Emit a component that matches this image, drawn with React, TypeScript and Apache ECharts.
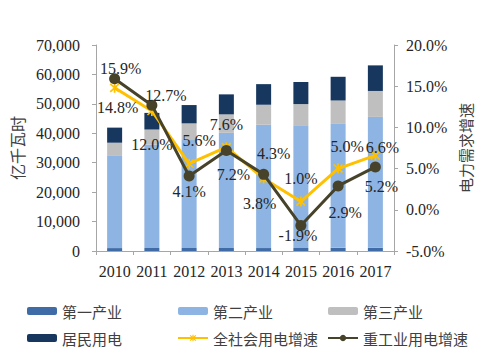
import React, { useEffect, useRef } from "react";
import * as echarts from "echarts";

const years = ["2010", "2011", "2012", "2013", "2014", "2015", "2016", "2017"];
const primary = [984, 1013, 1013, 1014, 1000, 1020, 1075, 1155];
const secondary = [31318, 35185, 36669, 39143, 41900, 41700, 42108, 44413];
const tertiary = [4497, 5082, 5690, 6273, 6800, 7200, 7961, 8814];
const residential = [5125, 5646, 6219, 6793, 7000, 7500, 8054, 8695];
const totalGrowth = [14.8, 12.0, 5.6, 7.6, 3.8, 1.0, 5.0, 6.6];
const heavyGrowth = [15.9, 12.7, 4.1, 7.2, 4.3, -1.9, 2.9, 5.2];

const totalLabelOffsets = [[3, 20], [0, 34], [10, -23], [0, -23], [-4, 25], [0, -23], [9, -22], [7, -8]];
const heavyLabelOffsets = [[6, -10], [14, -10], [0, 15], [7, 24], [10, -21], [-3, 10], [7, 27], [6, 20]];

const serif = "'Liberation Serif', 'Times New Roman', serif";
const cjk = "'Noto Sans CJK SC', sans-serif";
const textColor = "#262626";
const axisColor = "#A6A6A6";

const asterisk =
  "path://M-0.8,-5L0.8,-5L0.8,5L-0.8,5Z M-4.6,-3.5L-3.5,-4.6L4.6,3.5L3.5,4.6Z M3.5,-4.6L4.6,-3.5L-3.5,4.6L-4.6,3.5Z";

export default function App() {
  const ref = useRef<HTMLDivElement>(null);
  useEffect(() => {
    if (!ref.current) return;
    const chart = echarts.init(ref.current, undefined, { renderer: "svg" });
    const barNames = ["第一产业", "第二产业", "第三产业", "居民用电"];
    const barData = [primary, secondary, tertiary, residential];
    const barColors = ["#3F6CA6", "#8DB4E2", "#BFBFBF", "#17375E"];
    const labelCommon = {
      show: true,
      position: "inside",
      fontFamily: serif,
      fontSize: 16,
      color: textColor,
      formatter: (p: any) => Number(p.value).toFixed(1) + "%",
    };
    const legendCommon = {
      orient: "vertical",
      itemWidth: 30,
      itemHeight: 8,
      itemGap: 11,
      top: 298,
      textStyle: { fontFamily: cjk, fontSize: 15, color: "#404040", lineHeight: 16 },
    };
    chart.setOption({
      animation: false,
      grid: { left: 96, right: 95, top: 45, bottom: 103, containLabel: false },
      legend: [
        { ...legendCommon, left: 22, data: ["第一产业", "居民用电"] },
        { ...legendCommon, left: 172, data: ["第二产业", "全社会用电增速"] },
        { ...legendCommon, left: 322, data: ["第三产业", "重工业用电增速"] },
      ],
      xAxis: {
        type: "category",
        data: years,
        axisLine: { lineStyle: { color: axisColor } },
        axisTick: { show: true, length: 4, lineStyle: { color: axisColor } },
        axisLabel: { interval: 0, fontFamily: serif, fontSize: 16, color: textColor, margin: 12 },
      },
      yAxis: [
        {
          type: "value",
          min: 0,
          max: 70000,
          interval: 10000,
          name: "亿千瓦时",
          nameLocation: "middle",
          nameRotate: 90,
          nameGap: 67,
          nameTextStyle: { fontFamily: cjk, fontSize: 16, color: "#404040" },
          axisLine: { show: true, lineStyle: { color: axisColor } },
          axisTick: { show: true, length: 4, lineStyle: { color: axisColor } },
          splitLine: { show: false },
          axisLabel: {
            fontFamily: serif,
            fontSize: 16,
            color: textColor,
            margin: 16,
            formatter: (v: number) => v.toLocaleString("en-US"),
          },
        },
        {
          type: "value",
          min: -5,
          max: 20,
          interval: 5,
          name: "电力需求增速",
          nameLocation: "middle",
          nameRotate: 90,
          nameGap: 64,
          nameTextStyle: { fontFamily: cjk, fontSize: 15, color: "#404040" },
          axisLine: { show: true, lineStyle: { color: axisColor } },
          axisTick: { show: true, length: 4, lineStyle: { color: axisColor } },
          splitLine: { show: false },
          axisLabel: {
            fontFamily: serif,
            fontSize: 16,
            color: textColor,
            margin: 12,
            formatter: (v: number) => v.toFixed(1) + "%",
          },
        },
      ],
      series: [
        ...barNames.map((n, i) => ({
          name: n,
          type: "bar",
          stack: "total",
          barWidth: 15,
          yAxisIndex: 0,
          itemStyle: { color: barColors[i] },
          data: barData[i],
        })),
        {
          name: "全社会用电增速",
          type: "line",
          yAxisIndex: 1,
          symbol: asterisk,
          symbolSize: 10,
          lineStyle: { color: "#FFC000", width: 3 },
          itemStyle: { color: "#FFC000" },
          z: 3,
          data: totalGrowth.map((v, i) => ({
            value: v,
            label: { ...labelCommon, offset: totalLabelOffsets[i] },
          })),
        },
        {
          name: "重工业用电增速",
          type: "line",
          yAxisIndex: 1,
          symbol: "circle",
          symbolSize: 11,
          lineStyle: { color: "#47432A", width: 3 },
          itemStyle: { color: "#47432A" },
          z: 4,
          data: heavyGrowth.map((v, i) => ({
            value: v,
            label: { ...labelCommon, offset: heavyLabelOffsets[i] },
          })),
        },
      ],
    });
    return () => chart.dispose();
  }, []);
  return (
    <div
      ref={ref}
      style={{ position: "fixed", left: 0, top: 0, width: 489, height: 354, background: "#fff" }}
    />
  );
}
